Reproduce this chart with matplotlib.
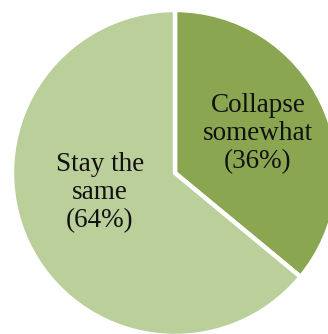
import matplotlib
matplotlib.use("Agg")
import matplotlib.pyplot as plt

labels = ["Collapse\nsomewhat\n(36%)", "Stay the\nsame\n(64%)"]
shares = [36, 64]
colors = ["#8ba650", "#bacf9a"]

W, H = 328, 334
fig = plt.figure(figsize=(W / 100, H / 100), dpi=100)
ax = fig.add_axes([0, 0, 1, 1])

cx, cy, r = 175, H - 173, 163
ax.pie(shares, colors=colors, startangle=90, counterclock=False,
       center=(cx, cy), radius=r, frame=True,
       wedgeprops=dict(edgecolor="white", linewidth=3.2))
ax.set_xlim(0, W)
ax.set_ylim(0, H)
ax.set_aspect("equal")
ax.axis("off")

font = dict(family="Liberation Serif", fontsize=19.5, ha="center", va="center",
            color="#111111", linespacing=1.16)
ax.text(258, H - 134, labels[0], **font)
ax.text(100, H - 193, labels[1], **font)

fig.savefig("out.png", dpi=100)
